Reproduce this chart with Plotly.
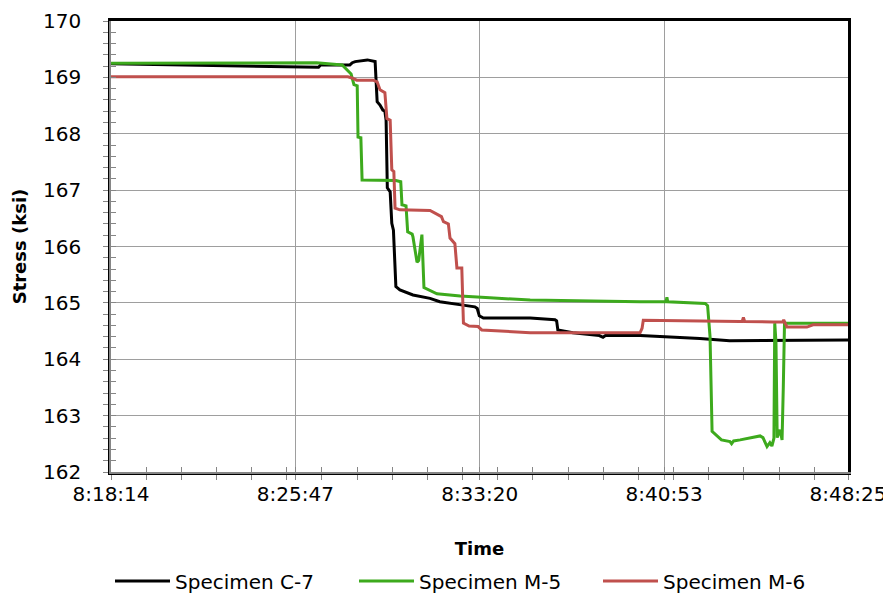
import plotly.graph_objects as go
import pandas as pd

# ---------------- data ----------------
BASE_DATE = "2013-01-01 "

c7_time = ["08:18:14", "08:23:14", "08:26:44", "08:26:49", "08:28:01", "08:28:07", "08:28:14",
           "08:28:44", "08:28:58", "08:29:03", "08:29:08", "08:29:15", "08:29:22", "08:29:27",
           "08:29:30", "08:29:33", "08:29:40", "08:29:44", "08:29:48", "08:29:54", "08:30:04",
           "08:30:36", "08:31:18", "08:31:42", "08:32:39", "08:33:08", "08:33:14", "08:33:19",
           "08:33:29", "08:35:24", "08:36:25", "08:36:29", "08:36:32", "08:37:09", "08:38:14",
           "08:38:23", "08:38:29", "08:39:54", "08:42:21", "08:43:34", "08:48:25"]
c7_stress = [169.24, 169.21, 169.18, 169.22, 169.22, 169.26, 169.28,
             169.31, 169.29, 169.28, 168.57, 168.51, 168.42, 168.40,
             168.24, 167.04, 166.97, 166.41, 166.29, 165.29, 165.23,
             165.14, 165.08, 165.02, 164.96, 164.93, 164.90, 164.77,
             164.73, 164.73, 164.70, 164.68, 164.52, 164.47, 164.42,
             164.39, 164.42, 164.42, 164.37, 164.33, 164.34]

m5_time = ["08:18:14", "08:26:39", "08:27:42", "08:28:04", "08:28:11", "08:28:19", "08:28:21",
           "08:28:28", "08:28:31", "08:29:54", "08:30:06", "08:30:09", "08:30:19", "08:30:23",
           "08:30:34", "08:30:36", "08:30:46", "08:30:50", "08:30:58", "08:31:03", "08:31:35",
           "08:32:32", "08:33:45", "08:35:24", "08:39:54", "08:40:58", "08:41:00", "08:41:02",
           "08:42:34", "08:42:40", "08:42:46", "08:42:51", "08:43:14", "08:43:35", "08:43:39",
           "08:43:44", "08:44:00", "08:44:49", "08:44:56", "08:45:06", "08:45:13", "08:45:18",
           "08:45:23", "08:45:25", "08:45:28", "08:45:31", "08:45:38", "08:45:43", "08:45:46",
           "08:45:49", "08:48:25"]
m5_stress = [169.25, 169.26, 169.22, 169.06, 168.87, 168.85, 167.94,
             167.93, 167.18, 167.17, 167.15, 166.74, 166.72, 166.26,
             166.22, 166.17, 165.72, 165.75, 166.21, 165.27, 165.16,
             165.12, 165.09, 165.05, 165.02, 165.02, 165.10, 165.02,
             164.99, 164.95, 164.40, 162.72, 162.57, 162.54, 162.50,
             162.55, 162.57, 162.64, 162.61, 162.45, 162.52, 162.46,
             162.60, 164.64, 164.30, 162.61, 162.75, 162.57, 163.50,
             164.64, 164.64]

m6_time = ["08:18:14", "08:27:56", "08:28:06", "08:28:18", "08:28:58", "08:29:08", "08:29:15",
           "08:29:22", "08:29:27", "08:29:32", "08:29:40", "08:29:44", "08:29:49", "08:29:52",
           "08:30:04", "08:31:18", "08:31:30", "08:31:46", "08:31:51", "08:32:03", "08:32:07",
           "08:32:19", "08:32:24", "08:32:36", "08:32:40", "08:32:54", "08:33:16", "08:33:25",
           "08:35:24", "08:39:54", "08:39:59", "08:40:02", "08:43:59", "08:44:05", "08:44:08",
           "08:44:11", "08:45:21", "08:45:45", "08:45:47", "08:45:50", "08:45:55", "08:46:44",
           "08:46:59", "08:48:25"]
m6_stress = [169.01, 169.01, 168.99, 168.95, 168.95, 168.92, 168.78,
             168.75, 168.73, 168.27, 168.24, 167.36, 167.33, 166.68,
             166.65, 166.64, 166.59, 166.53, 166.44, 166.40, 166.15,
             166.05, 165.62, 165.62, 164.64, 164.59, 164.58, 164.52,
             164.47, 164.47, 164.55, 164.69, 164.67, 164.67, 164.74,
             164.67, 164.66, 164.66, 164.70, 164.66, 164.57, 164.57,
             164.61, 164.61]

series_names = ["Specimen C-7", "Specimen M-5", "Specimen M-6"]
x_tick_labels = ["8:18:14", "8:25:47", "8:33:20", "8:40:53", "8:48:25"]
y_range = [162, 170]
y_major_step = 1
y_minor_step = 0.2
x_minor_step_seconds = 86.4  # 0.001 day

# ---------------- styling ----------------
COLORS = ["#000000", "#3DAA1D", "#C0504D"]
GRID = "#9E9E9E"
AXIS_GRAY = "#868686"
FONT = "DejaVu Sans"
PAGE_OFFSET = 8          # default body margin of the html page
FIG_W, FIG_H = 891 - PAGE_OFFSET, 603 - PAGE_OFFSET


def to_dt(t):
    return pd.to_datetime(BASE_DATE + t)


def fmt(ts):
    return ts.strftime("%Y-%m-%d %H:%M:%S.%f")


x_start = to_dt(x_tick_labels[0])
x_end = to_dt(x_tick_labels[-1])
x_range = [fmt(x_start), fmt(x_end)]
x_tickvals = [fmt(to_dt(t)) for t in x_tick_labels]
minor_vals = []
k = 0
while True:
    ts = x_start + pd.Timedelta(seconds=k * x_minor_step_seconds)
    if ts > x_end:
        break
    minor_vals.append(fmt(ts))
    k += 1

fig = go.Figure()
for name, times, vals, col in zip(series_names,
                                  [c7_time, m5_time, m6_time],
                                  [c7_stress, m5_stress, m6_stress],
                                  COLORS):
    fig.add_trace(go.Scatter(x=[fmt(to_dt(t)) for t in times], y=vals, mode="lines",
                             name=name, line=dict(color=col, width=3)))

# empty helper trace so the overlay axes (inner tick halves) are drawn
fig.add_trace(go.Scatter(x=[], y=[], xaxis="x2", yaxis="y2", showlegend=False,
                         hoverinfo="skip"))

common_tick = dict(ticklen=5, tickwidth=1, tickcolor=AXIS_GRAY)

fig.update_layout(
    width=FIG_W, height=FIG_H,
    margin=dict(l=111 - PAGE_OFFSET, r=43, t=21 - PAGE_OFFSET, b=131, autoexpand=False),
    paper_bgcolor="white", plot_bgcolor="white",
    font=dict(family=FONT, size=20, color="#000000"),
    showlegend=True,
    legend=dict(orientation="h", xref="container", yref="container",
                x=(110 - PAGE_OFFSET) / FIG_W, xanchor="left",
                y=1 - (581 - PAGE_OFFSET) / FIG_H, yanchor="middle",
                font=dict(size=20), itemwidth=55, entrywidth=174,
                bgcolor="rgba(0,0,0,0)"),
    xaxis=dict(type="date", range=x_range, tickmode="array", tickvals=x_tickvals,
               ticktext=x_tick_labels, ticks="outside", **common_tick,
               minor=dict(tickmode="array", tickvals=minor_vals, ticks="outside",
                          ticklen=5, tickcolor=AXIS_GRAY, showgrid=False),
               showgrid=True, gridcolor=GRID, gridwidth=1.3,
               showline=True, linecolor="#000000", linewidth=2.5, mirror=True,
               zeroline=False, ticklabelstandoff=-3,
               title=dict(text="<b>Time</b>", font=dict(size=18), standoff=38)),
    yaxis=dict(range=y_range, tickmode="linear", tick0=y_range[0], dtick=y_major_step,
               ticks="outside", **common_tick,
               minor=dict(dtick=y_minor_step, ticks="outside", ticklen=5,
                          tickcolor=AXIS_GRAY, showgrid=False),
               showgrid=True, gridcolor=GRID, gridwidth=1.3,
               showline=True, linecolor="#000000", linewidth=2.5, mirror=True,
               zeroline=False, ticklabelstandoff=18,
               title=dict(text="<b>Stress (ksi)</b>", font=dict(size=18), standoff=12)),
    xaxis2=dict(type="date", overlaying="x", anchor="y", side="bottom", range=x_range,
                tickmode="array", tickvals=x_tickvals, ticks="inside", **common_tick,
                minor=dict(tickmode="array", tickvals=minor_vals, ticks="inside",
                           ticklen=5, tickcolor=AXIS_GRAY, showgrid=False),
                showticklabels=False, showgrid=False, zeroline=False,
                showline=True, linecolor=AXIS_GRAY, linewidth=2),
    yaxis2=dict(overlaying="y", anchor="x", side="left", range=y_range,
                tickmode="linear", tick0=y_range[0], dtick=y_major_step,
                ticks="inside", **common_tick,
                minor=dict(dtick=y_minor_step, ticks="inside", ticklen=5,
                           tickcolor=AXIS_GRAY, showgrid=False),
                showticklabels=False, showgrid=False, zeroline=False,
                showline=True, linecolor=AXIS_GRAY, linewidth=2),
)

fig.write_html("out.html")
